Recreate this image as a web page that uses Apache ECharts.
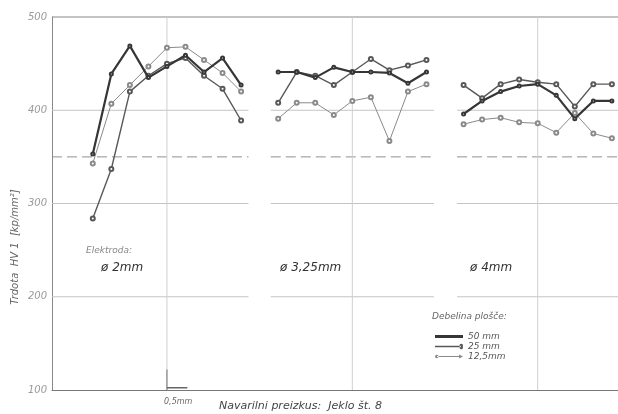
<!DOCTYPE html>
<html><head><meta charset="utf-8">
<script src="https://cdn.jsdelivr.net/npm/echarts@6/dist/echarts.min.js"></script>
<style>html,body{margin:0;padding:0;background:#fff}#c{width:618px;height:414px}</style>
</head><body><div id="c"></div>
<script>
// ---- data ----
const pointIndex = [0, 1, 2, 3, 4, 5, 6, 7, 8];
const groupOffsets = [0, 10, 20];
const groupLabels = ['ø 2mm', 'ø 3,25mm', 'ø 4mm'];
const thicknessNames = ['50 mm', '25 mm', '12,5mm'];
const hv50mm = [
  [353, 439, 469, 435, 447, 459, 441, 456, 427],
  [441, 441, 435, 446, 441, 441, 440, 429, 441],
  [396, 410, 420, 426, 428, 416, 391, 410, 410]
];
const hv25mm = [
  [284, 337, 420, 437, 450, 456, 437, 423, 389],
  [408, 441, 437, 427, 441, 455, 443, 448, 454],
  [427, 413, 428, 433, 430, 428, 404, 428, 428]
];
const hv12_5mm = [
  [343, 407, 427, 447, 467, 468, 454, 440, 420],
  [391, 408, 408, 395, 410, 414, 367, 420, 428],
  [385, 390, 392, 387, 386, 376, 397, 375, 370]
];
const yTicks = [100, 200, 300, 400, 500];
const solidGridValues = [200, 300, 400];
const dashedGridValue = 350;
const verticalGridX = [4, 14, 24];
const gridSegments = [[-2.2, 8.4], [9.6, 18.4], [19.65, 28.33]];
const scaleBar = [4, 5]; // 0,5 mm = one step

// ---- styles ----
const styles = [
  { color: '#363636', width: 2.2, symbolSize: 3 },
  { color: '#585858', width: 1.4, symbolSize: 4 },
  { color: '#8a8a8a', width: 1.0, symbolSize: 4 }
];
const legendIcons = [
  'path://M0,0 L0.01,0 L0,0.01 Z M0,3 H28 V6 H0 Z M28,9 L27.99,9 L28,8.99 Z',
  'path://M0,0 L0.01,0 L0,0.01 Z M0,3.8 H26 V5.2 H0 Z M25,4.5 A1.8,1.8 0 1 0 28,4.5 A1.8,1.8 0 1 0 25,4.5 Z M28,9 L27.99,9 L28,8.99 Z',
  'path://M0,0 L0.01,0 L0,0.01 Z M2,4 H26 V5 H2 Z M0,4.5 A1.8,1.8 0 1 0 3.6,4.5 A1.8,1.8 0 1 0 0,4.5 Z M24,2.5 L28,4.5 L24,6.5 Z M28,9 L27.99,9 L28,8.99 Z'
];
const allData = [hv50mm, hv25mm, hv12_5mm];
const FONT = '"DejaVu Sans", "Liberation Sans", sans-serif';

const series = [];
function seg(data, style) {
  series.push({ type: 'line', data, symbol: 'none', silent: true, z: 1,
    lineStyle: style, animation: false, legendHoverLink: false });
}
solidGridValues.forEach(v => gridSegments.forEach(s => seg([[s[0], v], [s[1], v]], { color: '#c4c4c4', width: 1 })));
gridSegments.forEach(s => seg([[s[0], dashedGridValue], [s[1], dashedGridValue]], { color: '#909090', width: 1, type: [10, 5] }));
verticalGridX.forEach(x => seg([[x, 100], [x, 500]], { color: '#cfcfcf', width: 1 }));
seg([[scaleBar[0], 100], [scaleBar[0], 122]], { color: '#777', width: 1 });
seg([[scaleBar[0], 102.5], [scaleBar[1] + 0.1, 102.5]], { color: '#666', width: 1.5 });

thicknessNames.forEach((name, k) => {
  groupOffsets.forEach((off, g) => {
    series.push({
      name, type: 'line', z: 5 - k, animation: false,
      symbol: 'emptyCircle', symbolSize: styles[k].symbolSize,
      itemStyle: { color: styles[k].color, borderWidth: 1 },
      lineStyle: { color: styles[k].color, width: styles[k].width },
      data: pointIndex.map((i, j) => [off + i, allData[k][g][j]])
    });
  });
});

const chart = echarts.init(document.getElementById('c'), null, { renderer: 'canvas' });
const txt = (x, y, text, size, fill, extra) => Object.assign({ type: 'text', x, y,
  style: Object.assign({ text, font: `italic ${size}px ${FONT}`, fill: fill || '#555', textVerticalAlign: 'middle' }, extra || {}) });

chart.setOption({
  backgroundColor: '#fff',
  animation: false,
  grid: { left: 52, right: 0, top: 17, bottom: 24 },
  xAxis: { type: 'value', min: -2.2, max: 28.33, axisLabel: { show: false }, axisTick: { show: false },
    splitLine: { show: false }, axisLine: { onZero: false, lineStyle: { color: '#777', width: 1 } } },
  yAxis: { type: 'value', min: 100, max: 500, interval: 100, axisTick: { show: false },
    axisLine: { show: true, onZero: false, lineStyle: { color: '#888', width: 1 } },
    splitLine: { show: false },
    axisLabel: { margin: 5, color: '#999', fontStyle: 'italic', fontSize: 10, fontFamily: FONT,
      formatter: v => yTicks.includes(v) ? String(v) : '' } },
  legend: {
    data: thicknessNames.map((n, k) => ({ name: n, icon: legendIcons[k], itemStyle: { color: styles[k].color, borderWidth: 0 } })),
    orient: 'vertical', left: 430, top: 327, itemGap: 1,
    itemWidth: 28, itemHeight: 9,
    textStyle: { fontStyle: 'italic', fontSize: 9, color: '#555', fontFamily: FONT },
    selectedMode: false
  },
  graphic: [
    { type: 'line', shape: { x1: 52, y1: 17, x2: 618, y2: 17 }, style: { stroke: '#888', lineWidth: 1 } },
    txt(15, 247, 'Trdota  HV 1  [kp/mm²]', 10, '#666', { textAlign: 'center' }),
    txt(86, 251, 'Elektroda:', 9, '#888'),
    txt(101, 268, groupLabels[0], 12, '#333'),
    txt(280, 268, groupLabels[1], 12, '#333'),
    txt(470, 268, groupLabels[2], 12, '#333'),
    txt(432, 317, 'Debelina plošče:', 9, '#666'),
    txt(164, 402, '0,5mm', 8, '#666'),
    txt(219, 406, 'Navarilni preizkus:  Jeklo št. 8', 11, '#444')
  ],
  series
});
const opt = chart.getOption();
opt.graphic[0].elements[1].rotation = Math.PI / 2;
chart.setOption({ graphic: opt.graphic });
</script></body></html>
